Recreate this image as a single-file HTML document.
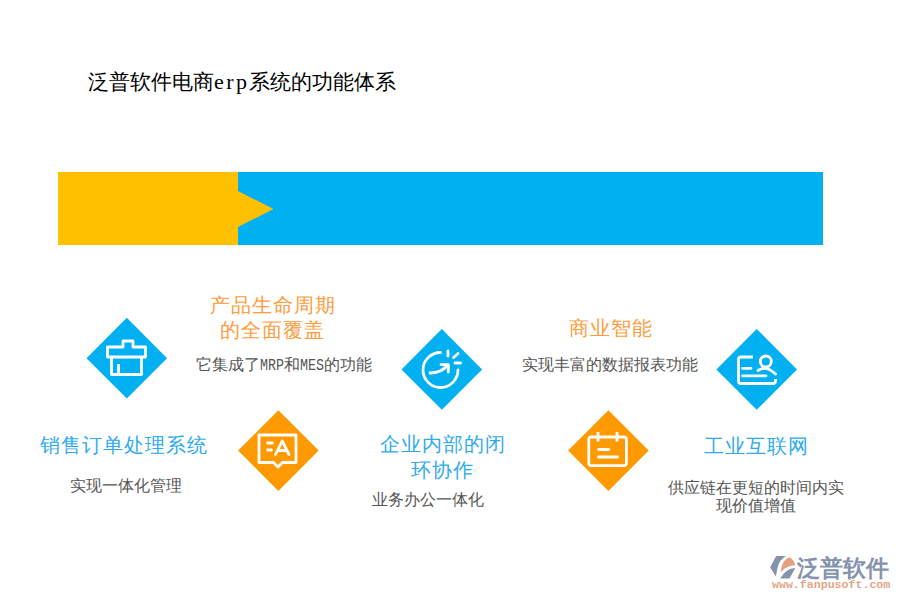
<!DOCTYPE html>
<html><head><meta charset="utf-8">
<style>
html,body{margin:0;padding:0;background:#fff;}
body{width:900px;height:600px;position:relative;overflow:hidden;font-family:"Liberation Sans",sans-serif;}
.t{position:absolute;white-space:nowrap;line-height:1;}
svg{position:absolute;left:0;top:0;}
.title{left:88px;top:71px;font-size:21px;font-weight:300;color:#000;font-family:"Liberation Serif",serif;}
.h{font-size:20px;letter-spacing:1px;text-indent:1px;font-weight:300;text-align:center;}
.o{color:#ff9c3c;}
.b{color:#2eaaf0;}
.s{font-size:16px;font-weight:300;color:#555;text-align:center;}
.m{display:inline-block;width:24px;font-family:"Liberation Mono",monospace;font-size:16px;transform:scaleX(.833);transform-origin:0 0;}
</style></head><body>
<svg width="900" height="600" viewBox="0 0 900 600">
  <rect x="58" y="172" width="765" height="73" fill="#00b0f0"/>
  <polygon points="58,172 238,172 238,191 273.5,209 238,227 238,245 58,245" fill="#ffc000"/>
  <!-- diamonds -->
  <polygon points="126.8,317.8 167.1,358.2 126.8,398.6 86.5,358.2" fill="#00b0f0"/>
  <polygon points="278.4,410.2 318.7,450.6 278.4,491 238.1,450.6" fill="#ff9900"/>
  <polygon points="441.8,329 482.1,369.4 441.8,409.8 401.5,369.4" fill="#00b0f0"/>
  <polygon points="608.4,410.2 648.7,450.6 608.4,491 568.1,450.6" fill="#ff9900"/>
  <polygon points="756.7,329 797,369.4 756.7,409.8 716.4,369.4" fill="#00b0f0"/>
  <g fill="none" stroke="#fff" stroke-width="2.8" stroke-linejoin="round" stroke-linecap="butt">
    <!-- icon 1: box -->
    <path d="M123,347 V341 H133 V347 H145.5 V357 H107.5 V347 Z"/>
    <path d="M111.5,357 V374.5 H141.5 V357"/>
    <path d="M118.5,374.5 V364"/>
    <!-- icon 2: speech A -->
    <path d="M259,435 H296 V462.5 H282.5 L278,467 L273.5,462.5 H259 Z"/>
    <path d="M267.5,443 H272.5 M267.5,450 H271.5" stroke-linecap="round"/>
    <path d="M275.5,454.5 L282.2,441 L289,454.5 M277.8,450.5 H286.6" stroke-linecap="round"/>
    <!-- icon 3: circle arrow -->
    <path d="M440.5,352.5 A17.5,17.5 0 1 0 458,370" stroke-linecap="round"/>
    <path d="M430,373 Q441,373 448,365" stroke-linecap="round"/>
    <path d="M441,364.7 H448.3 V372" stroke-linecap="round"/>
    <path d="M448,351 V356 M453.5,357.5 L458,353.5 M455,363 H460.5" stroke-linecap="round"/>
    <!-- icon 4: calendar -->
    <rect x="588.8" y="437" width="37.6" height="28.6" rx="2.5"/>
    <path d="M598,432 V441.5 M617,432 V441.5"/>
    <path d="M598.5,449.5 H608.8 M598.5,457 H617.5" stroke-linecap="round"/>
    <!-- icon 5: card person -->
    <path d="M753,357 H741 Q738.5,357 738.5,359.5 V381 Q738.5,383.5 741,383.5 H773 Q775.5,383.5 775.5,381 V379"/>
    <circle cx="765.8" cy="361.5" r="5.5"/>
    <path d="M758,370.5 Q766,365 775.5,374" stroke-linecap="round"/>
    <path d="M742.5,368.3 H751 M742.5,375.8 H766" stroke-linecap="round"/>
  </g>
</svg>
<div class="t title">泛普软件电商<span style="font-family:'Liberation Serif',serif;font-size:22px;letter-spacing:2.4px;">erp</span>系统的功能体系</div>

<div class="t h o" style="left:172px;top:293px;width:200px;line-height:25px;">产品生命周期<br>的全面覆盖</div>
<div class="t s" style="left:184px;top:357px;width:200px;">它集成了<span class="m">MRP</span>和<span class="m">MES</span>的功能</div>

<div class="t h b" style="left:23px;top:435px;width:200px;">销售订单处理系统</div>
<div class="t s" style="left:26px;top:478px;width:200px;">实现一体化管理</div>

<div class="t h b" style="left:342px;top:432px;width:200px;line-height:25.5px;">企业内部的闭<br>环协作</div>
<div class="t s" style="left:328px;top:492px;width:200px;">业务办公一体化</div>

<div class="t h o" style="left:510px;top:318px;width:200px;">商业智能</div>
<div class="t s" style="left:510px;top:357px;width:200px;">实现丰富的数据报表功能</div>

<div class="t h b" style="left:656px;top:436px;width:200px;">工业互联网</div>
<div class="t s" style="left:656px;top:479px;width:200px;line-height:18px;">供应链在更短的时间内实<br>现价值增值</div>

<!-- logo -->
<svg width="900" height="600" viewBox="0 0 900 600">
  <path d="M776.1,556.1 L786,556.1 Q779,560 777.5,568 L775.8,576.4 L770.2,567.2 Z" fill="#8593ae"/>
  <path d="M780.7,572.2 Q781.5,560 789.5,557.3 Q794,560 795.3,565.2 Q786,565.5 780.7,572.2 Z" fill="#e3a080"/>
  <path d="M780.2,578.6 L789.5,578.6 L795.3,568.1 Q786,568.5 780.2,578.6 Z" fill="#8593ae"/>
</svg>
<div class="t" style="left:797px;top:556.5px;font-size:23px;font-weight:bold;color:#8593ae;">泛普软件</div>
<div class="t" style="left:772px;top:579px;font-size:11.6px;font-weight:bold;color:#e3a585;font-family:'Liberation Mono',monospace;">www.fanpusoft.com</div>
</body></html>
